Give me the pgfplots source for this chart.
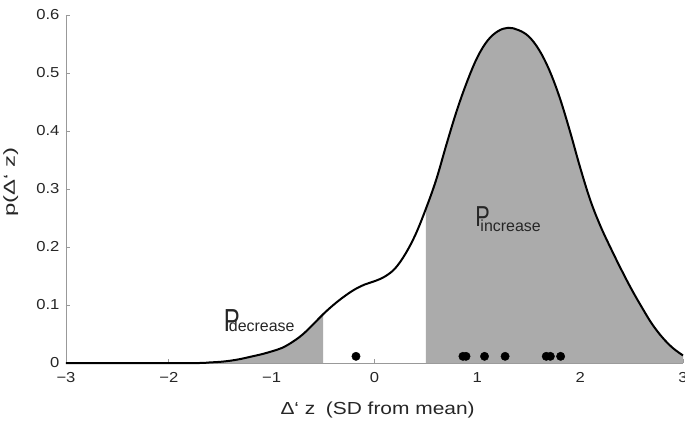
\documentclass[border=0pt]{standalone}
\usepackage{fontspec}
\setmainfont{Liberation Sans}
\newfontfamily\tickfont[FakeStretch=1.15]{Liberation Sans}
\newfontfamily\labfont[FakeStretch=1.2]{Liberation Sans}
\newfontfamily\ylabfont[FakeStretch=1.5]{Liberation Sans}
\newfontfamily\pfont[FakeStretch=0.75]{Liberation Sans}
\usepackage{pgfplots}
\usepackage{pgfplotstable}
\pgfplotsset{compat=1.18}
\definecolor{axisgray}{HTML}{999999}
\definecolor{fillgray}{HTML}{ABABAB}

\pgfplotstableread{
x y
-3.0 0.000
-2.5 0.000
-2.0 0.000
-1.7 0.000
-1.6 0.001
-1.5 0.002
-1.4 0.004
-1.3 0.007
-1.2 0.011
-1.1 0.015
-1.0 0.020
-0.9 0.026
-0.8 0.036
-0.7 0.049
-0.6 0.066
-0.5 0.084
-0.4 0.100
-0.3 0.114
-0.2 0.126
-0.1 0.135
0.0 0.141
0.1 0.149
0.2 0.163
0.3 0.188
0.4 0.222
0.5 0.266
0.6 0.316
0.7 0.377
0.8 0.435
0.9 0.485
1.0 0.527
1.1 0.556
1.2 0.572
1.3 0.578
1.4 0.574
1.5 0.563
1.6 0.540
1.7 0.505
1.8 0.458
1.9 0.400
2.0 0.337
2.1 0.280
2.2 0.235
2.3 0.197
2.4 0.161
2.5 0.127
2.6 0.096
2.7 0.067
2.8 0.044
2.9 0.026
3.0 0.013
}\curve

\pgfplotstableread{
x y
-0.18 0.0115
0.86 0.0115
0.89 0.0115
1.07 0.0115
1.27 0.0115
1.67 0.0115
1.71 0.0115
1.81 0.0115
}\dots

\begin{document}
\begin{tikzpicture}
\begin{axis}[
  scale only axis, width=617bp, height=348bp,
  xmin=-3, xmax=3, ymin=0, ymax=0.6,
  axis lines=left,
  axis line style={draw=axisgray, line width=0.9bp, -},
  tick style={draw=axisgray, line width=0.9bp},
  tick align=inside, major tick length=4bp,
  xtick={-3,-2,-1,0,1,2,3},
  xticklabels={−3,−2,−1,0,1,2,3},
  ytick={0,0.1,0.2,0.3,0.4,0.5,0.6},
  yticklabels={0,0.1,0.2,0.3,0.4,0.5,0.6},
  ticklabel style={font=\tickfont\fontsize{14.5}{14.5}\selectfont, text=black!85},
  xticklabel style={yshift=-6bp},
  yticklabel style={xshift=-3bp},
  xlabel={Δ‘ z\hspace{0.6em}(SD from mean)},
  xlabel style={at={(axis description cs:0.505,-0.1494)}, anchor=base,
    font=\labfont\fontsize{17.5}{17.5}\selectfont, text=black!85},
  ylabel={p(Δ‘ z)},
  ylabel style={at={(axis description cs:-0.0827,0.52)}, anchor=base,
    font=\ylabfont\fontsize{16}{16}\selectfont, text=black!85},
  clip=false,
]
\addplot[fill=fillgray, draw=none, smooth, tension=0.6, restrict x to domain=-3:-0.5] table {\curve} \closedcycle;
\addplot[fill=fillgray, draw=none, smooth, tension=0.6, restrict x to domain=0.5:3] table {\curve} \closedcycle;
\addplot[black, line width=2bp, smooth, tension=0.6] table {\curve};
\addplot[only marks, mark=*, mark size=4.2bp, black] table {\dots};
\node[anchor=base west, inner sep=0, text=black!85] at (axis cs:0.98,0.236)
  {\makebox[5bp][l]{\pfont\fontsize{29}{29}\selectfont P}\raisebox{-5bp}{\fontsize{16}{16}\selectfont increase}};
\node[anchor=base west, inner sep=0, text=black!85] at (axis cs:-1.466,0.054)
  {\makebox[5bp][l]{\pfont\fontsize{32}{32}\selectfont P}{\fontsize{16}{16}\selectfont decrease}};
\end{axis}
\pgfresetboundingbox
\path[use as bounding box] (-66bp,-59bp) rectangle (619bp,363bp);
\end{tikzpicture}
\end{document}
